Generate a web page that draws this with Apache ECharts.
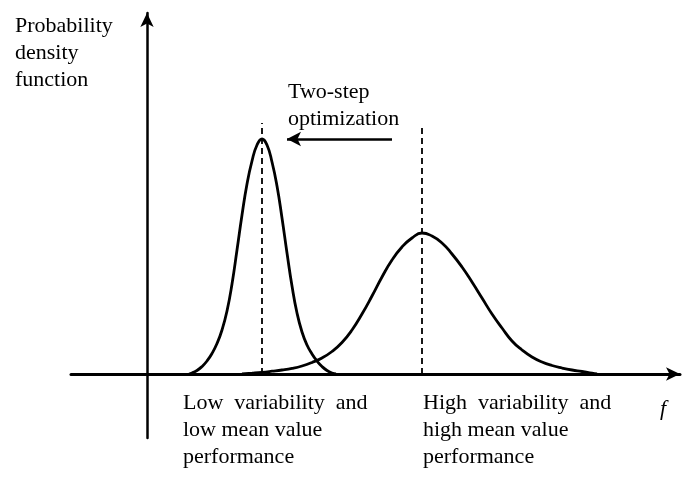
<!DOCTYPE html>
<html>
<head>
<meta charset="utf-8">
<title>Two-step optimization</title>
<script src="https://cdn.jsdelivr.net/npm/echarts@6/dist/echarts.min.js"></script>
<style>
  html, body { margin: 0; padding: 0; background: #fff; }
  #chart { width: 689px; height: 482px; }
</style>
</head>
<body>
<div id="chart"></div>
<script>
// ---------------------- BEGIN DATA -----------------
// x : performance f (arbitrary units), y : probability density
var lowCurve = [
  [4.2, 0], [4.5, 0.1], [5.0, 0.35], [5.5, 0.75], [6.0, 1.3], [6.5, 2.05],
  [7.0, 3.05], [7.5, 4.4], [8.0, 6.3], [8.5, 9.0], [9.0, 12.4], [9.5, 15.9],
  [10.0, 19.0], [10.5, 21.3], [11.0, 22.9], [11.5, 23.5], [12.0, 22.9],
  [12.5, 21.2], [13.0, 18.8], [13.5, 15.6], [14.0, 12.1], [14.5, 8.8],
  [15.0, 6.1], [15.5, 4.2], [16.0, 2.9], [16.5, 2.0], [17.0, 1.3],
  [17.5, 0.75], [18.0, 0.35], [18.5, 0.1], [18.9, 0]
];
var highCurve = [
  [9.5, 0], [10.5, 0.08], [11.5, 0.17], [12.5, 0.28], [13.5, 0.4],
  [14.5, 0.56], [15.5, 0.8], [16.5, 1.15], [17.5, 1.6], [18.5, 2.25],
  [19.5, 3.15], [20.5, 4.4], [21.5, 6.0], [22.5, 7.8], [23.5, 9.7],
  [24.5, 11.4], [25.5, 12.7], [26.5, 13.6], [27.5, 14.1], [28.5, 13.8],
  [29.5, 13.1], [30.5, 12.0], [31.5, 10.7], [32.5, 9.2], [33.5, 7.6],
  [34.5, 6.0], [35.5, 4.6], [36.5, 3.3], [37.5, 2.4], [38.5, 1.7],
  [39.5, 1.2], [40.5, 0.85], [41.5, 0.6], [42.5, 0.4], [43.5, 0.25],
  [44.5, 0.08], [45.0, 0]
];
var meanLines = [[11.5, 25.1], [27.5, 24.6]];   // dashed mean markers (x, top)
var arrowLine = [[24.5, 23.5], [14.0, 23.5]];   // optimization arrow, from -> to
var xRange = [-7.6, 53.3];
var yRange = [-6.4, 36.1];

var yAxisTitle = ['Probability', 'density', 'function'];
var xAxisTitle = 'f';
var arrowLabel = ['Two-step', 'optimization'];
var lowLabel = ['Low  variability  and', 'low mean value', 'performance'];
var highLabel = ['High  variability  and', 'high mean value', 'performance'];
// ----------------------- END DATA ----------------------------------------

var
  FONT = '"Liberation Serif", "Times New Roman", serif',
  chart, option, axisCommon, textItem, curveSeries
;

axisCommon = function (range, width) {
  return {
    type : 'value',
    min  : range[0],
    max  : range[1],
    axisLine : {
      onZero : true,
      symbol : ['none', 'arrow'],
      symbolSize : [10, 14],
      lineStyle : { color : '#000', width : width }
    },
    axisTick  : { show : false },
    axisLabel : { show : false },
    splitLine : { show : false }
  };
};

textItem = function (left, top, lines, italic) {
  return {
    type : 'text',
    left : left,
    top  : top,
    style : {
      text : lines.join('\n'),
      fontFamily : FONT,
      fontSize   : 22,
      fontStyle  : italic ? 'italic' : 'normal',
      lineHeight : 27,
      fill : '#000'
    }
  };
};

// one bell curve with its dashed mean marker (plus any extra mark lines)
curveSeries = function (name, data, mean, extra) {
  return {
    name : name,
    type : 'line',
    data : data,
    smooth : 0.5,
    showSymbol : false,
    lineStyle : { color : '#000', width : 2.8 },
    markLine : {
      silent : true,
      symbol : ['none', 'none'],
      label  : { show : false },
      lineStyle : { color : '#000', width : 1.8, type : [6, 4] },
      data : [[{ coord : [mean[0], 0] }, { coord : mean }]].concat(extra || [])
    }
  };
};

chart = echarts.init(document.getElementById('chart'), null, { renderer : 'canvas' });

option = {
  animation : false,
  backgroundColor : '#fff',
  grid  : { left : 71, right : 9, top : 13, bottom : 44 },
  xAxis : axisCommon(xRange, 3),
  yAxis : axisCommon(yRange, 2.5),
  series : [
    curveSeries('low', lowCurve, meanLines[0]),
    curveSeries('high', highCurve, meanLines[1], [[
      { coord : arrowLine[0], symbol : 'none',
        lineStyle : { type : 'solid', width : 2.5 } },
      { coord : arrowLine[1], symbol : 'arrow', symbolSize : [11, 14] }
    ]])
  ],
  graphic : [
    textItem(15, 13, yAxisTitle),
    textItem(288, 79, arrowLabel),
    textItem(183, 390, lowLabel),
    textItem(423, 390, highLabel),
    textItem(660, 396, [xAxisTitle], true)
  ]
};

chart.setOption(option);
</script>
</body>
</html>
